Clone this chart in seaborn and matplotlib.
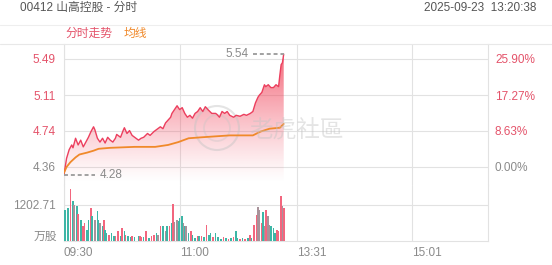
import numpy as np
import pandas as pd
import seaborn as sns
import matplotlib.pyplot as plt
from matplotlib.lines import Line2D
from matplotlib.patches import Ellipse

# ---------------- data ----------------
title_text = "00412 山高控股 - 分时"
date_text = "2025-09-23  13:20:38"
legend_price = "分时走势"
legend_avg = "均线"
watermark = "老虎社區"

x_tick_pos = [0, 90, 181, 271]
x_tick_labels = ["09:30", "11:00", "13:31", "15:01"]
session_minutes = 330

price_ticks = [4.36, 4.74, 5.11, 5.49]
price_tick_labels = ["4.36", "4.74", "5.11", "5.49"]
pct_tick_labels = ["0.00%", "8.63%", "17.27%", "25.90%"]

vol_tick = 1202.71
vol_tick_label = "1202.71"
vol_unit = "万股"

price_min = [0, 2, 4, 6, 7, 9, 11, 13, 15, 17, 19, 21, 23, 24, 26, 28, 30, 32, 34, 36,
             38, 40, 41, 44, 46, 47, 49, 51, 53, 55, 58, 60, 62, 65, 67, 70, 72, 75, 77, 79,
             81, 83, 84, 86, 88, 90, 92, 94, 96, 98, 100, 102, 104, 106, 108, 110, 112, 115, 118, 119,
             121, 123, 125, 127, 129, 132, 134, 137, 140, 142, 145, 147, 149, 151, 152, 154, 156, 157, 159, 161,
             163, 165, 167, 168, 169, 170, 171]
price_val = [4.28, 4.45, 4.54, 4.59, 4.56, 4.66, 4.59, 4.64, 4.57, 4.62, 4.67, 4.73, 4.78, 4.75, 4.66, 4.62, 4.66, 4.61, 4.67, 4.64,
             4.62, 4.66, 4.70, 4.67, 4.74, 4.77, 4.71, 4.74, 4.69, 4.67, 4.64, 4.66, 4.67, 4.71, 4.69, 4.73, 4.75, 4.78, 4.76, 4.82,
             4.85, 4.88, 4.92, 4.96, 5.00, 4.96, 4.98, 4.92, 4.88, 4.90, 4.87, 4.92, 4.94, 4.98, 4.94, 4.99, 4.96, 4.92, 4.92, 4.91,
             4.88, 4.94, 4.92, 4.94, 4.90, 4.88, 4.90, 4.89, 4.91, 4.90, 4.92, 4.94, 5.03, 5.09, 5.11, 5.14, 5.22, 5.20, 5.22, 5.19,
             5.19, 5.22, 5.20, 5.32, 5.43, 5.45, 5.54]

avg_min = [0, 2, 5, 9, 12, 18, 23, 27, 36, 55, 71, 81, 89, 97, 107, 118, 129, 147, 153, 160, 168, 171]
avg_val = [4.30, 4.36, 4.41, 4.46, 4.49, 4.51, 4.53, 4.55, 4.56, 4.57, 4.57, 4.59, 4.62, 4.66, 4.67, 4.68, 4.69, 4.69, 4.73, 4.76, 4.77, 4.81]

vol_min = [1, 3, 5, 7, 8, 10, 11, 13, 15, 16, 18, 19, 21, 22, 24, 26, 27, 28, 30, 31,
           32, 33, 35, 37, 39, 40, 42, 44, 45, 47, 48, 50, 52, 53, 55, 58, 59, 60, 62, 64,
           66, 68, 70, 72, 73, 75, 77, 79, 80, 82, 84, 85, 86, 88, 89, 90, 92, 93, 94, 95,
           97, 99, 100, 102, 104, 105, 107, 109, 111, 113, 114, 116, 118, 120, 122, 124, 126, 128, 130, 132,
           134, 135, 137, 139, 141, 143, 145, 146, 148, 150, 151, 152, 154, 155, 156, 157, 159, 160, 161, 163,
           164, 166, 167, 169, 170, 171]
vol_val = [1040, 1100, 1737, 1340, 1210, 1170, 915, 715, 500, 600, 380, 715, 1100, 830, 715, 1000, 715, 600, 500, 715,
           380, 270, 210, 270, 160, 180, 330, 170, 430, 330, 200, 170, 130, 160, 130, 160, 180, 150, 150, 330,
           100, 160, 210, 270, 210, 510, 490, 330, 490, 510, 600, 1250, 620, 715, 660, 770, 830, 600, 490, 490,
           270, 330, 210, 100, 180, 160, 180, 150, 550, 210, 270, 150, 270, 150, 70, 150, 100, 70, 100, 150,
           330, 100, 70, 100, 70, 100, 210, 100, 550, 880, 1120, 1040, 600, 960, 490, 1030, 830, 550, 490, 430,
           270, 380, 330, 1510, 1180, 1100]
vol_dir = ["d", "d", "u", "d", "m", "d", "u", "d", "u", "u", "d", "d", "u", "d", "m", "d", "d", "m", "d", "u",
           "d", "d", "u", "d", "d", "u", "u", "d", "u", "d", "u", "d", "d", "u", "d", "d", "u", "u", "d", "u",
           "d", "u", "u", "d", "m", "u", "d", "m", "d", "u", "d", "u", "m", "m", "d", "d", "d", "m", "d", "m",
           "d", "u", "d", "d", "u", "d", "u", "d", "u", "d", "d", "u", "d", "d", "d", "u", "d", "u", "d", "u",
           "d", "d", "u", "d", "u", "d", "u", "d", "u", "u", "m", "m", "u", "d", "m", "u", "m", "m", "d", "d",
           "d", "u", "u", "u", "m", "u"]

# ---------------- style ----------------
sns.set_style("white")
plt.rcParams['font.family'] = ['Liberation Sans', 'Noto Sans CJK SC', 'DejaVu Sans']

RED = "#ec3f5e"
LBL_RED = "#e4536a"
ORANGE = "#f0892a"
GRAY = "#8a8a8a"
GRID = "#e2e2e2"
UP = "#f2667e"
DOWN = "#3db6a6"
MIX = "#a8929a"

W, H = 552, 265
fig = plt.figure(figsize=(W / 100, H / 100), dpi=100)

def fx(px):
    return px / W

def fy(py):
    return 1 - py / H

AXW, AXH = 424, 141
ax = fig.add_axes([fx(64), fy(185), fx(AXW), AXH / H])
axv = fig.add_axes([fx(64), fy(241), fx(AXW), 56 / H])

pdf = pd.DataFrame({"m": price_min, "p": price_val})
adf = pd.DataFrame({"m": avg_min, "p": avg_val})

ylo, yhi = 4.171, 5.646

# gradient fill under price line
base = 4.19
poly = ax.fill_between(price_min, price_val, base, color="none", lw=0)
path = poly.get_paths()[0]
n = 256
alpha = 0.82 * np.linspace(1.0, 0.0, n) ** 1.2
rgba = np.zeros((n, 1, 4))
rgba[:, 0, 0] = 241 / 255
rgba[:, 0, 1] = 70 / 255
rgba[:, 0, 2] = 92 / 255
rgba[:, 0, 3] = alpha
img = ax.imshow(rgba, extent=[0, max(price_min), base, max(price_val)], aspect="auto",
                origin="upper", zorder=1, interpolation="bilinear")
img.set_clip_path(path, transform=ax.transData)

sns.lineplot(data=pdf, x="m", y="p", ax=ax, color=RED, lw=1.0, zorder=3)
sns.lineplot(data=adf, x="m", y="p", ax=ax, color=ORANGE, lw=1.3, zorder=4)

ax.set_xlim(0, session_minutes)
ax.set_ylim(ylo, yhi)
ax.set_xlabel("")
ax.set_ylabel("")
ax.set_xticks(x_tick_pos)
ax.set_xticklabels([])
ax.tick_params(axis="x", length=0)
ax.set_yticks(price_ticks)
ax.set_yticklabels(price_tick_labels, fontsize=8.5)
ax.tick_params(axis="y", length=0, pad=6)
for t, c in zip(ax.get_yticklabels(), [GRAY, LBL_RED, LBL_RED, LBL_RED]):
    t.set_color(c)
ax.grid(True, color=GRID, lw=0.8)
ax.set_axisbelow(True)
for s in ["top", "bottom"]:
    ax.spines[s].set_visible(False)
for s in ["left", "right"]:
    ax.spines[s].set_color(GRID)

ax2 = ax.twinx()
ax2.set_ylim(ylo, yhi)
ax2.set_yticks(price_ticks)
ax2.set_yticklabels(pct_tick_labels, fontsize=8.5)
ax2.tick_params(axis="y", length=0, pad=5)
for t, c in zip(ax2.get_yticklabels(), [GRAY, LBL_RED, LBL_RED, LBL_RED]):
    t.set_color(c)
for s in ax2.spines.values():
    s.set_visible(False)

# max / min annotations
pmax = max(price_val)
mmax = price_min[price_val.index(pmax)]
pmin = min(price_val)
mmin = price_min[price_val.index(pmin)]
ax.plot([mmax - 24, mmax], [pmax, pmax], color="#9a9a9a", lw=1.3, ls=(0, (2.2, 1.6)), zorder=5)
ax.text(mmax - 27.5, pmax, f"{pmax:.2f}", ha="right", va="center", fontsize=8.5, color=GRAY)
ax.plot([mmin, mmin + 24], [pmin, pmin], color="#9a9a9a", lw=1.3, ls=(0, (2.2, 1.6)), zorder=5)
ax.text(mmin + 27.5, pmin, f"{pmin:.2f}", ha="left", va="center", fontsize=8.5, color=GRAY)

# watermark (round logo + text)
cx, cy = (217 - 64) / AXW, (185 - 128) / AXH
for r, lw, a in [(22, 1.5, 0.45), (13, 1.3, 0.35)]:
    ax.add_patch(Ellipse((cx, cy), 2 * r / AXW, 2 * r / AXH, transform=ax.transAxes,
                         fill=False, ec="#c4c4c4", lw=lw, alpha=a, zorder=2))
fig.text(fx(249), fy(131), watermark, fontsize=17, color="#c4c4c4", alpha=0.45,
         ha="left", va="center", family=["Noto Sans CJK TC"])

# volume bars
cmap = {"u": UP, "d": DOWN, "m": MIX}
axv.bar(vol_min, vol_val, width=1.25, color=[cmap[d] for d in vol_dir], lw=0, zorder=3)
axv.set_xlim(0, session_minutes)
axv.set_ylim(0, 1870)
axv.set_xticks(x_tick_pos)
axv.set_xticklabels(x_tick_labels, fontsize=8.5, color=GRAY, ha="left")
axv.tick_params(axis="x", length=0, pad=4)
axv.set_yticks([vol_tick])
axv.set_yticklabels([vol_tick_label], fontsize=8.5, color=GRAY)
axv.tick_params(axis="y", length=0, pad=6)
axv.grid(True, color=GRID, lw=0.8)
axv.set_axisbelow(True)
axv.spines["top"].set_visible(False)
for s in ["left", "right", "bottom"]:
    axv.spines[s].set_color(GRID)
fig.text(fx(57), fy(237), vol_unit, ha="right", va="center", fontsize=8.5, color=GRAY)

# header
fig.text(fx(20), fy(8), title_text, ha="left", va="center", fontsize=8.5, color="#555555")
fig.text(fx(536), fy(8), date_text, ha="right", va="center", fontsize=8.5, color="#555555")
fig.add_artist(Line2D([0, 1], [fy(25), fy(25)], color="#eeeeee", lw=0.8))
fig.add_artist(Line2D([0, 1], [fy(44), fy(44)], color="#e8e8e8", lw=0.8))
fig.text(fx(65), fy(34), legend_price, ha="left", va="center", fontsize=8.5, color=LBL_RED)
fig.text(fx(124), fy(34), legend_avg, ha="left", va="center", fontsize=8.5, color=ORANGE)

fig.savefig("out.png", dpi=100)
